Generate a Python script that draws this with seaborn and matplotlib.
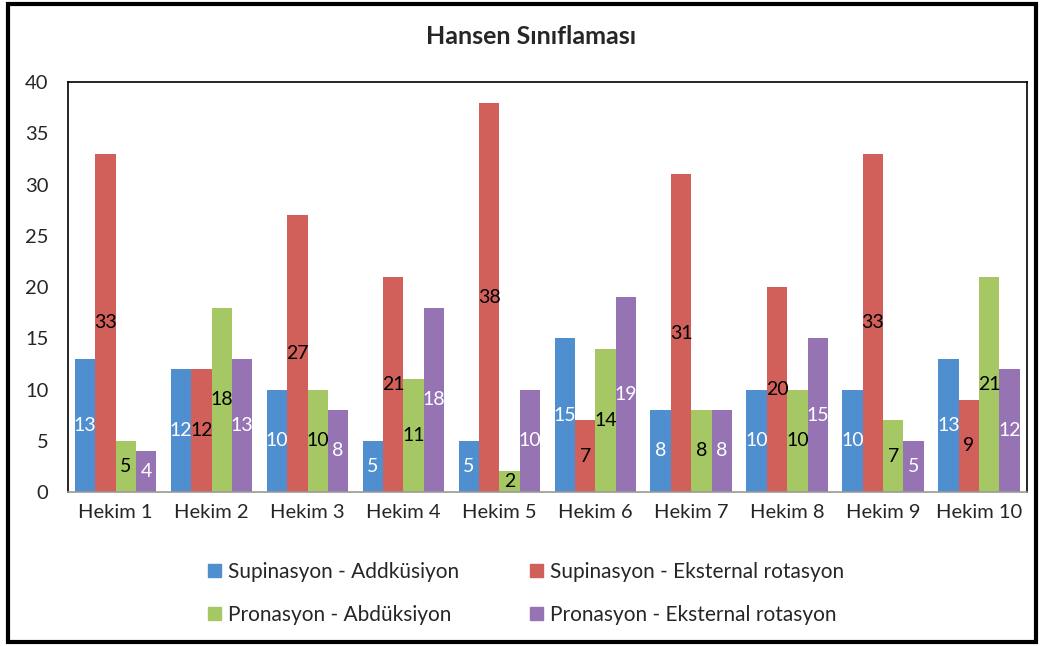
import matplotlib
matplotlib.use("Agg")
import matplotlib.pyplot as plt
import seaborn as sns
import pandas as pd
from matplotlib.patches import Rectangle

doctors = ["Hekim 1", "Hekim 2", "Hekim 3", "Hekim 4", "Hekim 5",
           "Hekim 6", "Hekim 7", "Hekim 8", "Hekim 9", "Hekim 10"]
series_names = ["Supinasyon - Addküsiyon", "Supinasyon - Eksternal rotasyon",
                "Pronasyon - Abdüksiyon", "Pronasyon - Eksternal rotasyon"]
sup_add = [13, 12, 10, 5, 5, 15, 8, 10, 10, 13]
sup_ext = [33, 12, 27, 21, 38, 7, 31, 20, 33, 9]
pro_abd = [5, 18, 10, 11, 2, 14, 8, 10, 7, 21]
pro_ext = [4, 13, 8, 18, 10, 19, 8, 15, 5, 12]

colors = ["#4F8FCF", "#D2605A", "#A5C864", "#9673B3"]
label_colors = ["white", "black", "black", "white"]

rows = []
for name, vals in zip(series_names, [sup_add, sup_ext, pro_abd, pro_ext]):
    for d, v in zip(doctors, vals):
        rows.append({"Hekim": d, "Seri": name, "Deger": v})
df = pd.DataFrame(rows)

sns.set_style("white")
plt.rcParams["font.family"] = ["Lato", "DejaVu Sans"]

fig = plt.figure(figsize=(10.42, 6.46), dpi=100)
ax = fig.add_axes([0.065, 0.2384, 0.9206, 0.6346])

sns.barplot(data=df, x="Hekim", y="Deger", hue="Seri", hue_order=series_names,
            order=doctors, palette=colors, width=0.85, saturation=1,
            gap=0, linewidth=0, ax=ax, legend=False)

for cont, lc in zip(ax.containers, label_colors):
    ax.bar_label(cont, label_type="center", color=lc, fontsize=14)

ax.set_ylim(0, 40)
ax.set_yticks(range(0, 41, 5))
ax.set_xlabel("")
ax.set_ylabel("")
ax.tick_params(axis="x", labelsize=14.5, length=0, pad=9)
ax.tick_params(axis="y", labelsize=14.5, length=0, pad=14)
for s in ["left", "top", "right"]:
    ax.spines[s].set_color("black")
    ax.spines[s].set_linewidth(1.2)
ax.spines["bottom"].set_color("#999999")
ax.spines["bottom"].set_linewidth(1.2)

fig.suptitle("Hansen Sınıflaması", x=0.51, y=0.962, fontsize=18, fontweight="bold")

# legend reads row by row: blue, red / green, purple
handles = [Rectangle((0, 0), 1, 1, color=c) for c in colors]
order = [0, 2, 1, 3]
fig.legend([handles[i] for i in order], [series_names[i] for i in order],
           loc="center", bbox_to_anchor=(0.505, 0.081),
           ncol=2, frameon=False, fontsize=15, handlelength=0.6, handleheight=0.6,
           handletextpad=0.35, columnspacing=3.4, labelspacing=1.1)

fig.patches.append(Rectangle((0.008, 0.006), 0.986, 0.988, transform=fig.transFigure,
                             fill=False, edgecolor="black", linewidth=3))

fig.savefig("out.png", dpi=100)
